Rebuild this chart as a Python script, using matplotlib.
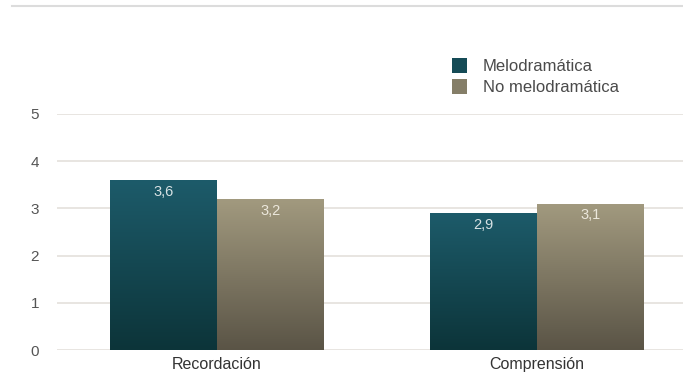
import numpy as np
import matplotlib
matplotlib.use("Agg")
import matplotlib.pyplot as plt
from matplotlib.colors import LinearSegmentedColormap
from matplotlib.patches import Patch
from matplotlib.lines import Line2D

categories = ["Recordación", "Comprensión"]
series_names = ["Melodramática", "No melodramática"]
melodramatica = [3.6, 2.9]
no_melodramatica = [3.2, 3.1]
value_labels = [["3,6", "2,9"], ["3,2", "3,1"]]
yticks = [0, 1, 2, 3, 4, 5]

plt.rcParams["font.family"] = ["Liberation Sans", "DejaVu Sans"]

W, H = 683, 381
fig = plt.figure(figsize=(W / 100, H / 100), dpi=100)
fig.patch.set_facecolor("white")

left_px, right_px = 57, 683
y0_px, y5_px = 350, 114
ax = fig.add_axes([left_px / W, 1 - y0_px / H, (right_px - left_px) / W, (y0_px - y5_px) / H])
ax.set_facecolor("white")

x = np.arange(len(categories))
width = 0.334

for t in yticks:
    ax.axhline(t, color="#e4e0dc", lw=1.2, zorder=0)

grads = [
    ("#1d5b6a", "#0c3439"),
    ("#a29a7f", "#5a5446"),
]
all_vals = [melodramatica, no_melodramatica]
for si, vals in enumerate(all_vals):
    top_c, bot_c = grads[si]
    cmap = LinearSegmentedColormap.from_list("g%d" % si, [bot_c, top_c])
    offset = (si - 0.5) * width
    bars = ax.bar(x + offset, vals, width, color="none", edgecolor="none", zorder=2)
    for bi, (b, v) in enumerate(zip(bars, vals)):
        x0 = b.get_x()
        grad = np.linspace(0, 1, 256).reshape(-1, 1)
        im = ax.imshow(grad, cmap=cmap, origin="lower", aspect="auto",
                       extent=[x0, x0 + width, 0, v], zorder=2)
        im.set_clip_path(b)
        ax.text(x0 + width / 2, v - 0.1, value_labels[si][bi], ha="center", va="top",
                color="#d8e2e4" if si == 0 else "#ece8dc", fontsize=10.5, zorder=3)

ax.set_xlim(-0.5, 1.456)
ax.set_ylim(0, 5)
ax.set_xticks(x)
ax.set_xticklabels(categories, fontsize=11.5, color="#333333")
ax.set_yticks(yticks)
ax.set_yticklabels([str(t) for t in yticks], fontsize=11, color="#555555")
ax.tick_params(axis="both", length=0)
ax.tick_params(axis="y", pad=13)
ax.tick_params(axis="x", pad=5)
for s in ax.spines.values():
    s.set_visible(False)

# top border line
fig.add_artist(Line2D([12 / W, 1.0], [1 - 6 / H, 1 - 6 / H], color="#dcdcdc", lw=1.5))

handles = [Patch(facecolor="#154b56", edgecolor="none"),
           Patch(facecolor="#857e68", edgecolor="none")]
fig.legend(handles, series_names, loc="upper left",
           bbox_to_anchor=(452 / W, 1 - 58 / H), frameon=False,
           fontsize=12, handlelength=0.9, handleheight=1.0, handletextpad=0.95,
           labelspacing=0.3, labelcolor="#4a4a4a", borderaxespad=0, borderpad=0)

fig.savefig("out.png", dpi=100, facecolor="white")
